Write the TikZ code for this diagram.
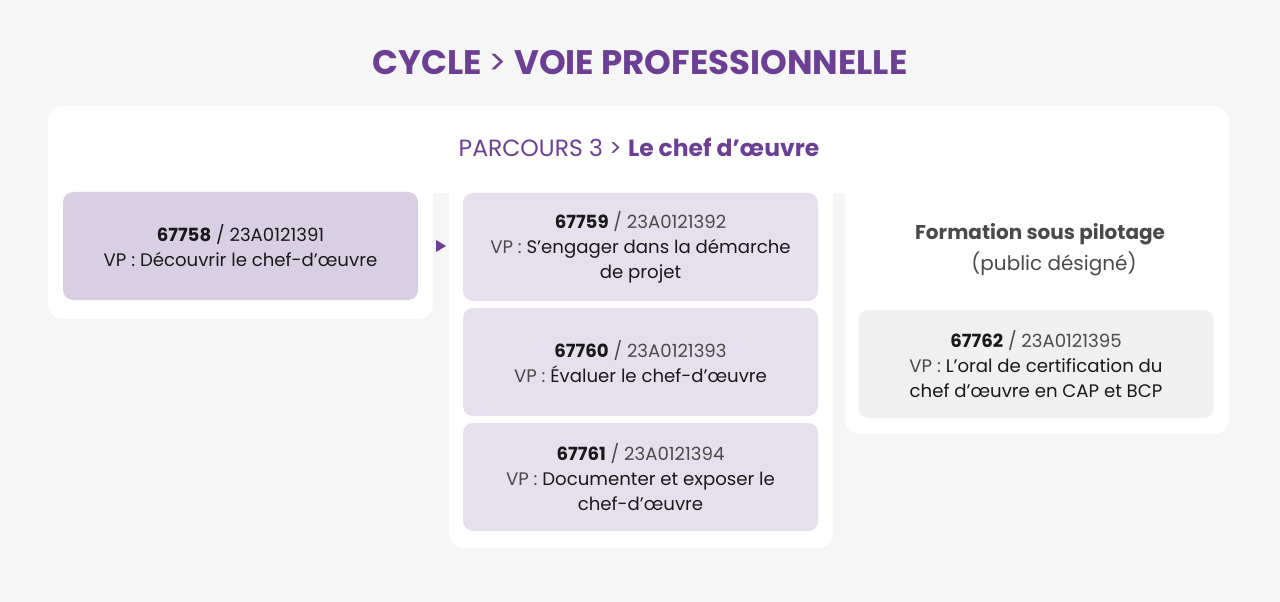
\documentclass[tikz,border=0pt]{standalone}
\usepackage{fontspec}
\setmainfont{Poppins}
\usepackage{tikz}
\definecolor{pagebg}{HTML}{F6F6F6}
\definecolor{cyclepurple}{HTML}{6C3F95}
\definecolor{darkbox}{HTML}{D9CFE2}
\definecolor{lightbox}{HTML}{E6E0EE}
\definecolor{greybox}{HTML}{F0F0F0}
\definecolor{codegrey}{HTML}{4A4A4A}

\begin{document}
\begin{tikzpicture}[x=0.75pt, y=-0.75pt,
  panel/.style={fill=white, rounded corners=11pt},
  module/.style={rounded corners=7.5pt, minimum width=266.25pt, minimum height=81pt, inner sep=0pt,
    align=center, font=\fontsize{13.6}{18.75}\selectfont, text=black!90}]
  \fill[pagebg] (0,0) rectangle (1280,602);
  \useasboundingbox (0,0) rectangle (1280,602);
  % white panels
  \fill[panel] (48,106) rectangle (1229,193);
  \fill[panel] (48,150) rectangle (433,319);
  \fill[panel] (449,150) rectangle (833,548);
  \fill[panel] (845,150) rectangle (1229,434);
  % titles
  \node[font=\fontsize{25.5}{30}\selectfont\bfseries, text=cyclepurple] (cycle) at (640,63) {CYCLE {\mdseries >} VOIE PROFESSIONNELLE};
  \node[font=\fontsize{17.6}{20}\selectfont, text=cyclepurple] (parcours) at (639,147) {PARCOURS 3 > \textbf{Le chef d’œuvre}};
  % modules
  \node[module, fill=darkbox] (m58) at (240.5,246) {\textbf{67758} / 23A0121391\\VP : Découvrir le chef-d\symbol{"27}œuvre};
  \node[module, fill=lightbox] (m59) at (640.5,247) {\textbf{67759} {\color{codegrey}/ 23A0121392}\\{\color{codegrey}VP :} S’engager dans la démarche\\de projet};
  \node[module, fill=lightbox] (m60) at (640.5,362) {\textbf{67760} {\color{codegrey}/ 23A0121393}\\{\color{codegrey}VP :} Évaluer le chef-d’œuvre};
  \node[module, fill=lightbox] (m61) at (640.5,477) {\textbf{67761} {\color{codegrey}/ 23A0121394}\\{\color{codegrey}VP :} Documenter et exposer le\\chef-d’œuvre};
  \node[font=\fontsize{15}{23.25}\selectfont, align=center, text=codegrey] (pilot) at (1040,250) {\textbf{Formation sous pilotage}\\\hspace*{1.4em}(public désigné)};
  \node[module, fill=greybox] (m62) at (1036,364) {\textbf{67762} {\color{codegrey}/ 23A0121395}\\{\color{codegrey}VP :} L’oral de certification du\\chef d’œuvre en CAP et BCP};
  % arrow
  \coordinate (tip) at (446,246);
  \fill[cyclepurple] (tip) -- ++(-10,-6) -- ++(0,12) -- cycle;
\end{tikzpicture}
\end{document}
